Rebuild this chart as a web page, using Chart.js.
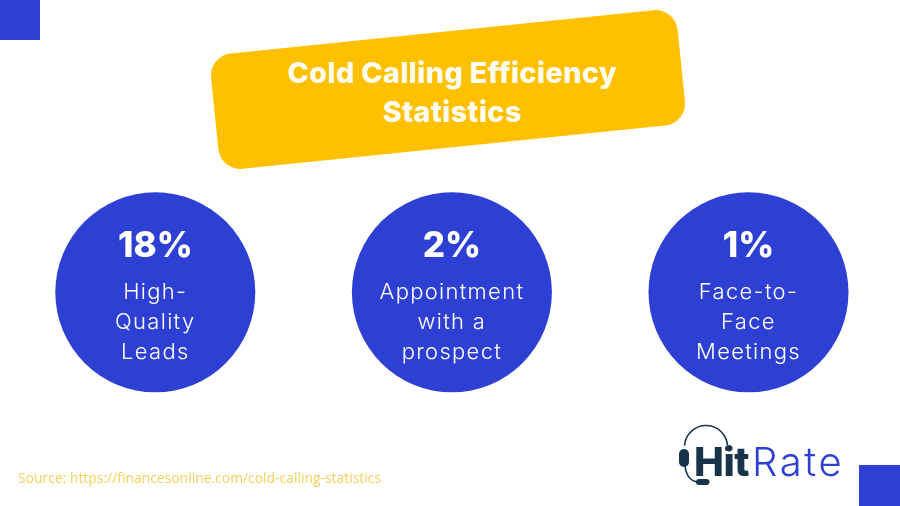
<!DOCTYPE html>
<html lang="en">
<head>
<meta charset="UTF-8">
<title>Cold Calling Efficiency Statistics</title>
<script src="https://cdn.jsdelivr.net/npm/chart.js@4"></script>
<style>
    body { margin: 0; background: #ffffff; }
    canvas { display: block; }
</style>
</head>
<body>
<canvas id="chart" width="900" height="506"></canvas>
<script>
// chart data
var categories = ['High-Quality Leads', 'Appointment with a prospect', 'Face-to-Face Meetings'];
var percentages = [18, 2, 1];
var labelLines = [
    ['High-', 'Quality', 'Leads'],
    ['Appointment', 'with a', 'prospect'],
    ['Face-to-', 'Face', 'Meetings']
];
var rowPositions = [0, 0, 0];
var titleLines = ['Cold Calling Efficiency', 'Statistics'];
var sourceText = 'Source: https://financesonline.com/cold-calling-statistics';

var BLUE = '#2e40d4';
var YELLOW = '#ffc000';
var DARK = '#17344a';

function drawText(ctx, text, x, y, font, color, align, spacing) {
    ctx.font = font;
    ctx.fillStyle = color;
    ctx.textAlign = align || 'center';
    ctx.textBaseline = 'alphabetic';
    ctx.letterSpacing = (spacing || 0) + 'px';
    ctx.fillText(text, x, y);
    ctx.letterSpacing = '0px';
}

// squares, banner and logo go behind the circles
var decorPlugin = {
    id: 'decor',
    beforeDraw: function(chart) {
        var ctx = chart.ctx;
        ctx.save();
        ctx.fillStyle = '#ffffff';
        ctx.fillRect(0, 0, 900, 506);

        ctx.fillStyle = BLUE;
        ctx.fillRect(0, 0, 40, 40);
        ctx.fillRect(859, 465, 41, 41);

        // tilted title banner
        ctx.save();
        ctx.translate(448, 89.5);
        ctx.rotate(-5.85 * Math.PI / 180);
        ctx.fillStyle = YELLOW;
        ctx.beginPath();
        ctx.roundRect(-234.5, -58, 469, 116, 22);
        ctx.fill();
        ctx.restore();

        drawText(ctx, titleLines[0], 452, 83, '800 29px Inter', '#fffdf2', 'center', 0.25);
        drawText(ctx, titleLines[1], 452, 122, '800 29px Inter', '#fffdf2', 'center', 0.25);

        drawText(ctx, sourceText, 18, 483, '13.9px "Open Sans"', '#f4cf5a', 'left', 0);

        // HitRate logo
        ctx.strokeStyle = DARK;
        ctx.fillStyle = DARK;
        ctx.lineWidth = 1.6;
        ctx.beginPath();
        ctx.arc(706, 447, 21.5, Math.PI * 1.02, Math.PI * 1.98);
        ctx.stroke();
        ctx.beginPath();
        ctx.moveTo(685, 466);
        ctx.quadraticCurveTo(687, 481, 698, 482);
        ctx.stroke();
        ctx.beginPath();
        ctx.roundRect(679, 449, 10, 18, 5);
        ctx.fill();
        ctx.beginPath();
        ctx.roundRect(696, 479, 13.5, 6, 3);
        ctx.fill();
        ctx.beginPath();
        ctx.arc(727.5, 448.5, 2.5, 0, Math.PI * 2);
        ctx.fill();
        drawText(ctx, 'Hit', 694, 476, '800 40px Inter', DARK, 'left', -0.5);
        drawText(ctx, 'Rate', 752, 476, '300 40px Inter', BLUE, 'left', 2.6);
        ctx.restore();
    },
    afterDatasetsDraw: function(chart) {
        var ctx = chart.ctx;
        var points = chart.getDatasetMeta(0).data;
        ctx.save();
        points.forEach(function(point, i) {
            drawText(ctx, percentages[i] + '%', point.x, 257, '800 35px Inter', '#ffffff');
            labelLines[i].forEach(function(line, j) {
                drawText(ctx, line, point.x, 298.5 + j * 30, '300 22px Inter', '#ffffff', 'center', 1.3);
            });
        });
        ctx.restore();
    }
};

// Chart.js keeps at least the point radius as padding, so the outer circles
// sit on the edges of the chart area (no offset) and top padding shifts the row
new Chart(document.getElementById('chart'), {
    type: 'line',
    data: {
        labels: categories,
        datasets: [{
            data: rowPositions,
            showLine: false,
            clip: false,
            pointRadius: 100,
            pointHoverRadius: 100,
            pointBackgroundColor: BLUE,
            pointBorderColor: BLUE,
            pointBorderWidth: 0
        }]
    },
    options: {
        responsive: false,
        animation: false,
        devicePixelRatio: 1,
        layout: { padding: { left: 155.3, right: 151.5, top: 178.6, bottom: 100 } },
        plugins: { legend: { display: false }, title: { display: false }, tooltip: { enabled: false } },
        scales: {
            x: { type: 'category', offset: false, display: false },
            y: { min: -1, max: 1, display: false }
        }
    },
    plugins: [decorPlugin]
});
</script>
</body>
</html>
